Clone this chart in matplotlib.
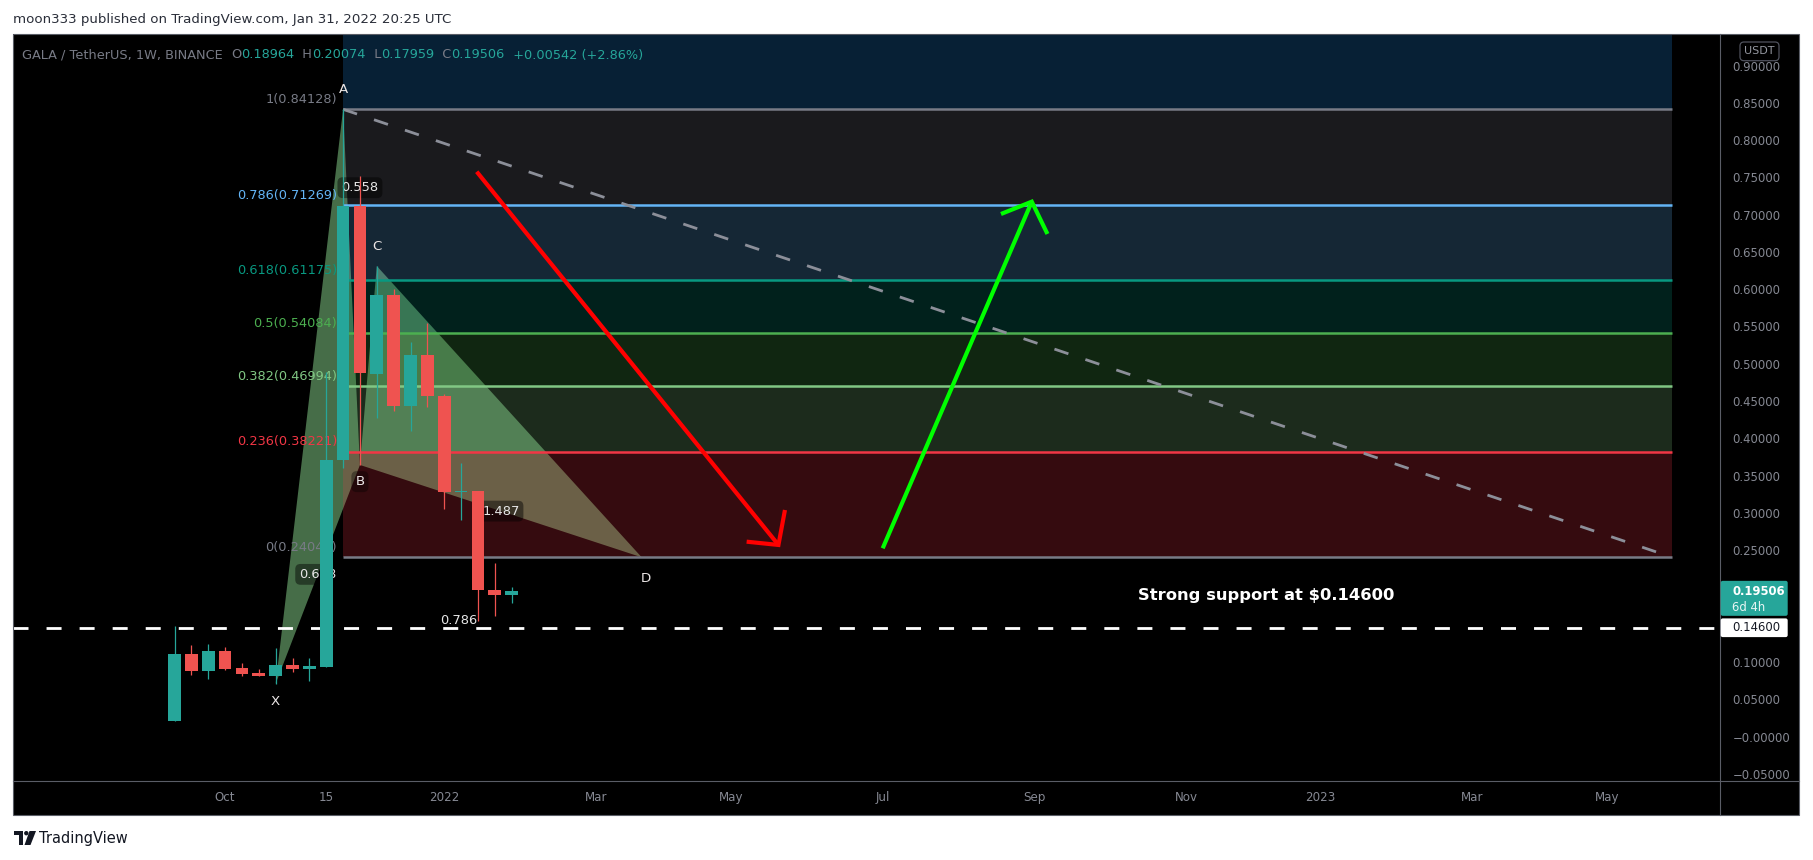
import matplotlib
matplotlib.use("Agg")
import matplotlib.pyplot as plt
import matplotlib.dates as mdates
from matplotlib.patches import Polygon, Rectangle, FancyBboxPatch, Circle
from matplotlib.transforms import IdentityTransform
from matplotlib.offsetbox import TextArea, HPacker, AnnotationBbox
import pandas as pd

W, H = 1813, 860

# ---------------- data ----------------
publisher = "moon333 published on TradingView.com, Jan 31, 2022 20:25 UTC"
symbol = "GALA / TetherUS, 1W, BINANCE"
first_week = "2021-09-13"
opens  = [0.0213, 0.1108, 0.0884, 0.1148, 0.0920, 0.0853, 0.0817, 0.0960, 0.0911, 0.0937, 0.3710,
          0.7116, 0.4859, 0.5923, 0.4438, 0.5118, 0.4572, 0.3285, 0.3290, 0.1962, 0.18964]
highs  = [0.1483, 0.1231, 0.1241, 0.1197, 0.0987, 0.0907, 0.1188, 0.1054, 0.1054, 0.4894, 0.84128,
          0.7519, 0.6311, 0.5999, 0.5292, 0.5547, 0.4595, 0.3669, 0.3300, 0.2328, 0.20074]
lows   = [0.0213, 0.0826, 0.0772, 0.0895, 0.0813, 0.0810, 0.0708, 0.0866, 0.0750, 0.0930, 0.3598,
          0.3643, 0.4269, 0.4371, 0.4103, 0.4425, 0.3052, 0.2909, 0.1554, 0.1621, 0.17959]
closes = [0.1108, 0.0884, 0.1148, 0.0907, 0.0843, 0.0817, 0.0960, 0.0911, 0.0947, 0.3710, 0.7116,
          0.4872, 0.5923, 0.4438, 0.5118, 0.4572, 0.3285, 0.3290, 0.1962, 0.18964, 0.19506]
prev_close = 0.18964

fib_levels = [0, 0.236, 0.382, 0.5, 0.618, 0.786, 1, 1.618]
fib_prices = [0.24046, 0.38221, 0.46994, 0.54084, 0.61175, 0.71269, 0.84128, 1.21257]
fib_colors = ["#787b86", "#f23645", "#81c784", "#4caf50", "#089981", "#64b5f6", "#787b86", "#2196f3"]
fib_start, fib_end = "2021-11-22", "2023-05-27 22:00"

pattern_names = ["X", "A", "B", "C", "D"]
pattern_dates = ["2021-10-25", "2021-11-22", "2021-11-29", "2021-12-06", "2022-03-26"]
pattern_prices = [0.0708, 0.84128, 0.3643, 0.6311, 0.24046]
ratio_pairs = [("X", "B"), ("A", "C"), ("B", "D"), ("X", "D")]
ratio_texts = ["0.618", "0.558", "1.487", "0.786"]

trend_dates = ["2021-11-22", "2023-05-27 22:00"]
trend_prices = [0.84128, 0.24046]

support_price = 0.146
support_text = "Strong support at $0.14600"
support_text_date = "2022-12-10 12:00"
support_text_price = 0.1886

red_shaft_dates = ["2022-01-16 12:00", "2022-05-21 19:00"]
red_shaft_prices = [0.7576, 0.2570]
red_head_dates = ["2022-05-08 14:00", "2022-05-21 19:00", "2022-05-24 12:00"]
red_head_prices = [0.2614, 0.2570, 0.3039]
green_shaft_dates = ["2022-07-04 02:00", "2022-09-04 00:00"]
green_shaft_prices = [0.2525, 0.7174]
green_head_dates = ["2022-08-22 05:00", "2022-09-04 00:00", "2022-09-10 12:00"]
green_head_prices = [0.7009, 0.7174, 0.6741]

# 0.20000 and 0.15000 are hidden behind the price badges in the reference
price_ticks = [0.90, 0.85, 0.80, 0.75, 0.70, 0.65, 0.60, 0.55, 0.50, 0.45, 0.40, 0.35, 0.30,
               0.25, 0.10, 0.05, 0.0, -0.05]
price_tick_labels = ["0.90000", "0.85000", "0.80000", "0.75000", "0.70000", "0.65000", "0.60000",
                     "0.55000", "0.50000", "0.45000", "0.40000", "0.35000", "0.30000", "0.25000",
                     "0.10000", "0.05000", "\u22120.00000", "\u22120.05000"]
time_ticks = ["2021-10-04", "2021-11-15", "2022-01-03", "2022-03-07", "2022-05-02", "2022-07-04",
              "2022-09-05", "2022-11-07", "2023-01-02", "2023-03-06", "2023-05-01"]
time_labels = ["Oct", "15", "2022", "Mar", "May", "Jul", "Sep", "Nov", "2023", "Mar", "May"]

x_range = ("2021-07-07 22:20", "2023-06-16 19:00")
y_range = (-0.0596, 0.9423)

UP, DOWN = "#26a69a", "#ef5350"
AXIS_TXT = "#868993"


def dn(s):
    return mdates.date2num(pd.Timestamp(s))


# ---------------- figure ----------------
fig = plt.figure(figsize=(W / 100, H / 100), dpi=100, facecolor="white")
ID = IdentityTransform()
PL, PT, PR, PB = 13, 34, 1720, 781          # plot area in pixels (from top-left)
FR, FB = 1799, 815                           # outer frame right/bottom

fig.add_artist(Rectangle((PL, H - FB), FR - PL, FB - PT, transform=ID,
                         facecolor="black", edgecolor="none", zorder=-10))

ax = fig.add_axes([PL / W, 1 - PB / H, (PR - PL) / W, (PB - PT) / H])
ax.set_facecolor("black")
ax.set_xlim(dn(x_range[0]), dn(x_range[1]))
ax.set_ylim(*y_range)
for s in ax.spines.values():
    s.set_visible(False)

# axes ticks
ax.yaxis.tick_right()
ax.set_yticks(price_ticks, labels=price_tick_labels)
ax.tick_params(axis="y", length=0, pad=9.1, labelcolor=AXIS_TXT, labelsize=8.4)
ax.set_xticks([dn(t) for t in time_ticks], labels=time_labels)
ax.tick_params(axis="x", length=0, pad=7.0, labelcolor=AXIS_TXT, labelsize=8.6)

# ---------------- XABCD pattern fill ----------------
pts = {n: (dn(d), p) for n, d, p in zip(pattern_names, pattern_dates, pattern_prices)}
for tri in (("X", "A", "B"), ("B", "C", "D")):
    ax.add_patch(Polygon([pts[n] for n in tri], closed=True, facecolor="#81c784",
                         alpha=0.55, edgecolor="none", zorder=1))

# ---------------- Fibonacci retracement ----------------
fx0, fx1 = dn(fib_start), dn(fib_end)
for i in range(len(fib_prices) - 1):
    ax.fill_between([fx0, fx1], fib_prices[i], fib_prices[i + 1], color=fib_colors[i + 1],
                    alpha=0.22, linewidth=0, zorder=2)
for lvl, p, c in zip(fib_levels, fib_prices, fib_colors):
    if p > y_range[1]:
        continue
    ax.plot([fx0, fx1], [p, p], color=c, lw=1.8, zorder=3, solid_capstyle="butt")
    ax.annotate(f"{lvl:g}({p:.5f})", xy=(fx0, p), xytext=(-4.3, 7.3), textcoords="offset points",
                ha="right", va="center", color=c, fontsize=9.3, zorder=3)

# dashed trend line
ax.plot([dn(d) for d in trend_dates], trend_prices, color="#8c8f99", lw=2.0,
        dashes=(5.3, 6.45), zorder=3.5)

# ratio labels (beneath candles)
for (a, b), t in zip(ratio_pairs, ratio_texts):
    mx = (pts[a][0] + pts[b][0]) / 2
    my = (pts[a][1] + pts[b][1]) / 2
    ax.text(mx, my, t, ha="center", va="center", color="#e6e6e6", fontsize=9.4, zorder=4.5,
            bbox=dict(boxstyle="round,pad=0.3,rounding_size=0.4", facecolor="black",
                      alpha=0.45, edgecolor="none"))

# support line
ax.axhline(support_price, color="white", lw=2, dashes=(5.4, 6.5), zorder=4.7)

# ---------------- candles ----------------
dates = pd.date_range(first_week, periods=len(opens), freq="7D")
bw = 5.3
for d, o, h, l, c in zip(dates, opens, highs, lows, closes):
    x = mdates.date2num(d)
    col = UP if c >= o else DOWN
    ax.plot([x, x], [l, h], color=col, lw=0.9, zorder=5, solid_capstyle="butt")
    bottom = min(o, c)
    height = max(abs(c - o), 0.0022)
    if abs(c - o) < 0.0022:
        bottom = (o + c) / 2 - 0.0011
    ax.add_patch(Rectangle((x - bw / 2, bottom), bw, height, facecolor=col,
                           edgecolor="none", zorder=5.1))

# ---------------- arrows ----------------
for sd, sp, hd, hp, col in ((red_shaft_dates, red_shaft_prices, red_head_dates, red_head_prices, "#ff0000"),
                            (green_shaft_dates, green_shaft_prices, green_head_dates, green_head_prices, "#00ff00")):
    ax.plot([dn(d) for d in sd], sp, color=col, lw=3, solid_capstyle="butt", zorder=6)
    ax.plot([dn(d) for d in hd], hp, color=col, lw=3, solid_capstyle="butt",
            solid_joinstyle="miter", zorder=6)

# point labels
offsets = {"X": (0, -13), "A": (0, 14.4), "B": (0, -12), "C": (0, 14.4), "D": (3, -15.5)}
for n in pattern_names:
    kw = {}
    if n == "B":
        kw["bbox"] = dict(boxstyle="round,pad=0.3,rounding_size=0.4", facecolor="black",
                          alpha=0.35, edgecolor="none")
    ax.annotate(n, xy=pts[n], xytext=offsets[n], textcoords="offset points", ha="center",
                va="center", color="#ece7e7", fontsize=9.6, zorder=7, **kw)

# support text
ax.text(dn(support_text_date), support_text_price, support_text, ha="center", va="center",
        color="white", fontsize=11.8, fontweight="bold", zorder=7)

# ---------------- frame lines ----------------
LINE = "#5a5d66"
fig.add_artist(Rectangle((PL, H - FB), FR - PL, FB - PT, transform=ID, facecolor="none",
                         edgecolor=LINE, lw=0.8, zorder=15))
fig.add_artist(plt.Line2D([PR, PR], [H - PT, H - FB], transform=ID, color=LINE, lw=0.8, zorder=15))
fig.add_artist(plt.Line2D([PL, FR], [H - PB, H - PB], transform=ID, color=LINE, lw=0.8, zorder=15))


def price_px(p):
    return H - ax.transData.transform((ax.get_xlim()[0], p))[1]


# current price label
yc = price_px(closes[-1])
fig.add_artist(FancyBboxPatch((PR + 0.7, H - (yc + 24.7)), 67, 35, boxstyle="round,pad=0,rounding_size=2",
                              transform=ID, facecolor=UP, edgecolor="none", zorder=20))
fig.text(1732.3, H - (yc + 0.4), f"{closes[-1]:.5f}", transform=ID, ha="left", va="center",
         color="white", fontsize=8.4, fontweight="bold", zorder=21)
fig.text(1732.3, H - (yc + 16), "6d 4h", transform=ID, ha="left", va="center",
         color="#e8f6f4", fontsize=8.4, zorder=21)

# support price label
ys = price_px(support_price)
fig.add_artist(FancyBboxPatch((PR + 0.7, H - (ys + 9.4)), 67, 18.7, boxstyle="round,pad=0,rounding_size=2",
                              transform=ID, facecolor="white", edgecolor="none", zorder=20))
fig.text(1732.3, H - ys, f"{support_price:.5f}", transform=ID, ha="left", va="center",
         color="#131722", fontsize=8.4, zorder=21)

# USDT badge
fig.add_artist(FancyBboxPatch((1740, H - 60.7), 39, 18.7, boxstyle="round,pad=0,rounding_size=4",
                              transform=ID, facecolor="black", edgecolor="#50535e", lw=0.9, zorder=20))
fig.text(1759.5, H - 51.5, "USDT", transform=ID, ha="center", va="center", color="#9598a1",
         fontsize=8, zorder=21)

# ---------------- header texts ----------------
fig.text(13.4, H - 20, publisher, transform=ID, ha="left", va="center", color="#2a2e39", fontsize=9.6)

GRAY, TEAL = "#787b86", UP
chg = closes[-1] - prev_close
pieces = [(symbol + "  ", GRAY), ("O", GRAY), (f"{opens[-1]:.5f}", TEAL), ("  H", GRAY),
          (f"{highs[-1]:.5f}", TEAL), ("  L", GRAY), (f"{lows[-1]:.5f}", TEAL), ("  C", GRAY),
          (f"{closes[-1]:.5f}", TEAL),
          (f"  {chg:+.5f} ({chg / prev_close * 100:+.2f}%)", TEAL)]
box = HPacker(children=[TextArea(s, textprops=dict(color=c, fontsize=9.3)) for s, c in pieces],
              align="baseline", pad=0, sep=0)
ab = AnnotationBbox(box, (22 / W, 1 - 55 / H), xycoords="figure fraction", box_alignment=(0, 0.5),
                    frameon=False, pad=0, zorder=22)
fig.add_artist(ab)

# ---------------- TradingView footer ----------------
LOGO = "#131722"
fig.add_artist(Rectangle((14, H - 835), 9, 4, transform=ID, facecolor=LOGO, edgecolor="none"))
fig.add_artist(Rectangle((18.5, H - 845), 4.5, 14, transform=ID, facecolor=LOGO, edgecolor="none"))
fig.add_artist(Circle((26.3, H - 833.2), 2.2, transform=ID, facecolor=LOGO, edgecolor="none"))
fig.add_artist(Polygon([(29.5, H - 831), (36, H - 831), (30.5, H - 845), (24.5, H - 845)], closed=True,
                       transform=ID, facecolor=LOGO, edgecolor="none"))
fig.text(39, H - 838, "TradingView", transform=ID, ha="left", va="center", color=LOGO, fontsize=10.5)

fig.savefig("out.png", dpi=100, facecolor="white")
